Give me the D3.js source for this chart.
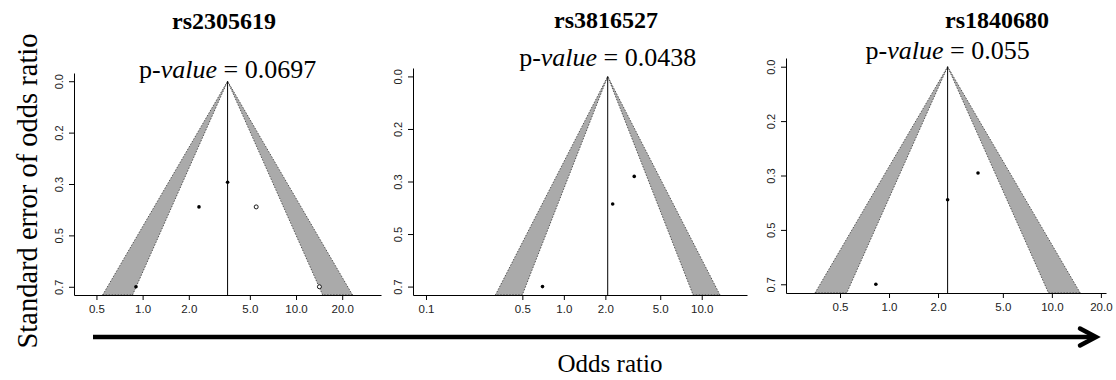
<!DOCTYPE html>
<html>
<head>
<meta charset="utf-8">
<script src="https://cdn.jsdelivr.net/npm/d3@7"></script>
<style>
  body { margin: 0; background: #fff; }
  svg { display: block; }
</style>
</head>
<body>
<div id="chart"></div>
<script>
// data
var snps = ["rs2305619", "rs3816527", "rs1840680"];
var pValues = ["0.0697", "0.0438", "0.055"];
var pooledOR = [3.58, 2.08, 2.29];
var studyOR = [[3.58, 2.33, 0.905], [3.24, 2.26, 0.70], [3.52, 2.29, 0.83]];
var studySE = [[0.344, 0.428, 0.70], [0.333, 0.425, 0.70], [0.342, 0.428, 0.70]];
// imputed (open) studies from trim and fill
var filledOR = [[5.5, 14.2], [], []];
var filledSE = [[0.428, 0.70], [], []];
var xTickValues = [[0.5, 1, 2, 5, 10, 20], [0.1, 0.5, 1, 2, 5, 10], [0.5, 1, 2, 5, 10, 20]];
var xDomains = [[0.357, 35.8], [0.0805, 21.3], [0.233, 21.5]];
var yTickValues = [0, 0.175, 0.35, 0.525, 0.7];
var yTickLabels = ["0.0", "0.2", "0.3", "0.5", "0.7"];
var seDomain = [-0.028, 0.728];
var contourZ = [1.96, 2.576];

var width = 1116, height = 380;

// where each panel sits on the page
var frames = [
  {left: 74, right: 381, top: 73, bottom: 295, titleX: 224, titleY: 29, pY: 78},
  {left: 413, right: 747, top: 68, bottom: 295, titleX: 606, titleY: 28, pY: 66},
  {left: 786, right: 1106, top: 58, bottom: 293, titleX: 997, titleY: 28, pY: 59}
];

var serif = "'Liberation Serif', 'Times New Roman', serif";
var sans = "'Liberation Sans', Arial, sans-serif";

var svg = d3.select("#chart")
  .append("svg")
    .attr("width", width)
    .attr("height", height);

function funnel(i) {
  var f = frames[i];
  var x = d3.scaleLog().domain(xDomains[i]).range([f.left, f.right]);
  var y = d3.scaleLinear().domain(seDomain).range([f.top, f.bottom]);
  var est = Math.log(pooledOR[i]);
  var seMax = seDomain[1];
  var g = svg.append("g");

  // grey bands between the 95% and 99% contours
  [-1, 1].forEach(function(side) {
    var pts = [
      [Math.exp(est + side * contourZ[1] * seMax), seMax],
      [Math.exp(est), 0],
      [Math.exp(est + side * contourZ[0] * seMax), seMax]
    ];
    g.append("path")
      .attr("d", d3.line().x(function(d) { return x(d[0]); }).y(function(d) { return y(d[1]); })(pts) + "Z")
      .attr("fill", "#aaaaaa")
      .attr("stroke", "#333")
      .attr("stroke-width", 0.8)
      .attr("stroke-dasharray", "1.5,1.5");
  });

  g.append("line")
    .attr("x1", x(pooledOR[i])).attr("x2", x(pooledOR[i]))
    .attr("y1", y(0)).attr("y2", y(seMax))
    .attr("stroke", "#000")
    .attr("stroke-width", 1);

  var yAxis = g.append("g")
    .attr("transform", "translate(" + f.left + ",0)")
    .call(d3.axisLeft(y).tickValues(yTickValues).tickSize(5).tickSizeOuter(0)
      .tickFormat(function(d, k) { return yTickLabels[k]; }));
  yAxis.selectAll("text")
    .attr("x", null).attr("dy", null)
    .attr("transform", "translate(-11,0) rotate(-90)")
    .attr("text-anchor", "middle")
    .style("font-family", sans).style("font-size", "11px").attr("fill", "#222");

  var xAxis = g.append("g")
    .attr("transform", "translate(0," + f.bottom + ")")
    .call(d3.axisBottom(x).tickValues(xTickValues[i]).tickSize(5).tickSizeOuter(0)
      .tickFormat(d3.format(".1f")));
  xAxis.selectAll("text")
    .attr("y", 18).attr("dy", null)
    .style("font-family", sans).style("font-size", "11.5px").attr("fill", "#222");
  g.selectAll(".domain").attr("stroke", "#000");

  g.selectAll(".study")
    .data(d3.zip(studyOR[i], studySE[i]))
    .enter()
    .append("circle")
    .attr("cx", function(d) { return x(d[0]); })
    .attr("cy", function(d) { return y(d[1]); })
    .attr("r", 1.8)
    .attr("fill", "#000");

  g.selectAll(".filled")
    .data(d3.zip(filledOR[i], filledSE[i]))
    .enter()
    .append("circle")
    .attr("cx", function(d) { return x(d[0]); })
    .attr("cy", function(d) { return y(d[1]); })
    .attr("r", 2)
    .attr("fill", "#fff")
    .attr("stroke", "#000")
    .attr("stroke-width", 0.9);

  g.append("text")
    .attr("x", f.titleX).attr("y", f.titleY)
    .attr("text-anchor", "middle")
    .style("font-family", serif).style("font-size", "24px").style("font-weight", "bold")
    .text(snps[i]);

  var p = g.append("text")
    .attr("x", x(pooledOR[i])).attr("y", f.pY)
    .attr("text-anchor", "middle")
    .style("font-family", serif).style("font-size", "26px");
  p.append("tspan").text("p-");
  p.append("tspan").style("font-style", "italic").text("value");
  p.append("tspan").text(" = " + pValues[i]);
}

for (var i = 0; i < snps.length; i++) funnel(i);

svg.append("text")
  .attr("transform", "translate(37,191) rotate(-90)")
  .attr("text-anchor", "middle")
  .style("font-family", serif).style("font-size", "28.5px")
  .text("Standard error of odds ratio");

// shared arrow under the panels
svg.append("line")
  .attr("x1", 93).attr("x2", 1092)
  .attr("y1", 337).attr("y2", 337)
  .attr("stroke", "#000").attr("stroke-width", 4.5);
svg.append("polyline")
  .attr("points", "1080,328.5 1096,337 1080,345.5")
  .attr("fill", "none").attr("stroke", "#000").attr("stroke-width", 4.5)
  .attr("stroke-linecap", "round");

svg.append("text")
  .attr("x", 610).attr("y", 372)
  .attr("text-anchor", "middle")
  .style("font-family", serif).style("font-size", "25px")
  .text("Odds ratio");
</script>
</body>
</html>
